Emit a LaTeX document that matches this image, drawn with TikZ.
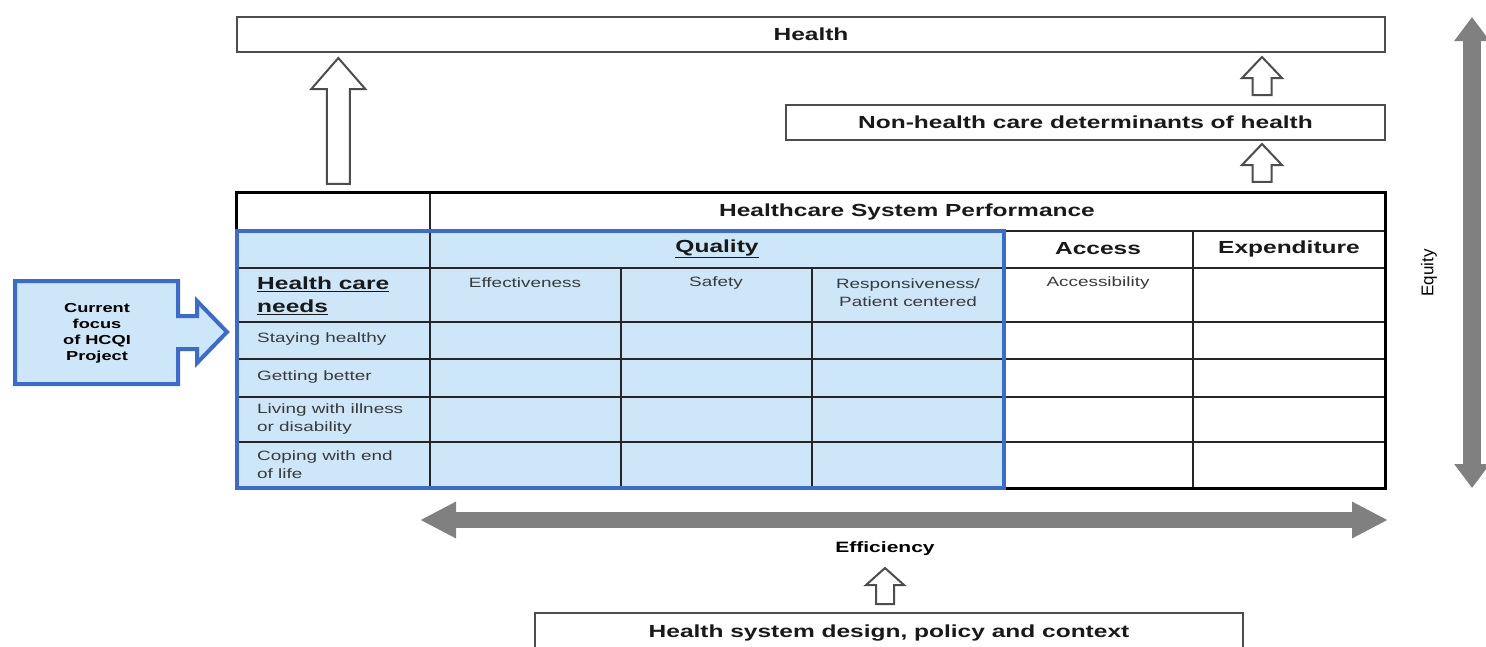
\documentclass[tikz,border=0pt]{standalone}
\usepackage{fontspec}
\setmainfont{Liberation Sans}[FakeStretch=1.4]
\newfontfamily\plainfont{Liberation Sans}
\usetikzlibrary{positioning,calc,arrows.meta}

\definecolor{qblue}{HTML}{CDE6F8}
\definecolor{qedge}{HTML}{3A6BCF}
\definecolor{bandgray}{HTML}{808080}
\definecolor{boxline}{HTML}{4D4D4D}
\definecolor{celltext}{HTML}{3A3A3A}

\tikzset{
  hdr/.style={font=\fontsize{17.5}{23}\selectfont\bfseries, text=black!90, inner sep=0pt},
  topbox/.style={hdr, draw=boxline, line width=2pt, fill=white},
  cell/.style={font=\fontsize{13.5}{18}\selectfont, text=celltext, align=center, inner sep=0pt},
  rowlab/.style={cell, align=left, anchor=west},
  gridline/.style={draw=black!85, line width=1.5pt},
  hollow/.style={draw=boxline, line width=2pt, fill=white, line join=miter},
  hband/.style={draw=bandgray, line width=16pt,
    {Triangle[length=36pt,width=34pt]}-{Triangle[length=36pt,width=34pt]}},
  vband/.style={draw=bandgray, line width=18pt,
    {Triangle[length=24pt,width=34pt]}-{Triangle[length=24pt,width=34pt]}},
}

% hollow block arrow: foot, tip, shaft half, head half, head length
\newcommand{\blockup}[5]{%
  \draw[hollow] let \p1=(#1), \p2=(#2) in
    (\x1-#3pt,\y1) -- (\x1-#3pt,\y2-#5pt) -- (\x1-#4pt,\y2-#5pt) -- (\x2,\y2)
    -- (\x1+#4pt,\y2-#5pt) -- (\x1+#3pt,\y2-#5pt) -- (\x1+#3pt,\y1) -- cycle;}

\begin{document}
\begin{tikzpicture}[x=1pt,y=-1pt]
\clip (0,0) rectangle (1486,646);
\fill[white] (0,0) rectangle (1486,646);

% boxes above and below
\node[topbox, minimum width=1148pt, minimum height=35pt] (health) at (811,34.5) {Health};
\node[topbox, minimum width=599pt, minimum height=35pt] (nonhc) at (1085.5,122.5) {Non-health care determinants of health};
\node[topbox, minimum width=708pt, minimum height=40pt, anchor=north] (design) at (889,612) {Health system design, policy and context};

% table
\node[minimum width=1148pt, minimum height=295pt, inner sep=0pt] (tbl) at (811,340.5) {};
\fill[qblue] (237,231) rectangle (1004,488);
\foreach \y in {231,268,322,359,397,442}
  \draw[gridline] (237,\y) -- (1385,\y);
\draw[gridline] (430,193) -- (430,488);
\foreach \x in {621,812}
  \draw[gridline] (\x,268) -- (\x,488);
\foreach \x in {1004,1193}
  \draw[gridline] (\x,231) -- (\x,488);
\draw[line width=3pt] (tbl.north west) rectangle (tbl.south east);
\draw[qedge, line width=3.5pt] (237,231) rectangle (1004,488);

\node[hdr] (perf) at (907,212) {Healthcare System Performance};
\node[hdr] (qual) at (717,249) {\underline{Quality}};
\node[hdr] (acc) at (1098,249) {Access};
\node[hdr] (expd) at (1289,249) {Expenditure};
\node[cell] (eff) at (525,283) {Effectiveness};
\node[cell] (saf) at (716,283) {Safety};
\node[cell] (resp) at (908,293) {Responsiveness/\\Patient centered};
\node[cell] (accs) at (1098,283) {Accessibility};
\node[hdr, align=left, anchor=west] (needs) at (257,296) {\underline{Health care}\\\underline{needs}};
\node[rowlab] (stay) at (257,339) {Staying healthy};
\node[rowlab] (better) at (257,377) {Getting better};
\node[rowlab] (living) at (257,419) {Living with illness\\or disability};
\node[rowlab] (coping) at (257,465) {Coping with end\\of life};

% focus callout
\draw[qedge, line width=4pt, fill=qblue, line join=miter]
  (15,281) -- (178,281) -- (178,316) -- (197,316) -- (197,301) -- (227,332)
  -- (197,363) -- (197,349) -- (178,349) -- (178,384) -- (15,384) -- cycle;
\node[font=\fontsize{13}{16}\selectfont\bfseries, align=center, inner sep=0pt] (focus) at (97,333) {Current\\focus\\of HCQI\\Project};

% efficiency and equity
\coordinate (effl) at (420,520);
\coordinate (effr) at (1388,520);
\draw[hband] (effl) -- (effr);
\node[font=\fontsize{15}{18}\selectfont\bfseries, inner sep=0pt] (effic) at (885,549) {Efficiency};
\coordinate (eqtop) at (1472,17);
\coordinate (eqbot) at (1472,488);
\draw[vband] (eqtop) -- (eqbot);
\node[font=\plainfont\fontsize{17}{20}\selectfont, rotate=90, inner sep=0pt] (equity) at (1429,273) {Equity};

% hollow arrows
\coordinate (bigfoot) at ($(tbl.north west)+(101.5,-9)$);
\coordinate (bigtip) at ($(health.south -| bigfoot)+(0,5)$);
\blockup{bigfoot}{bigtip}{11.5}{27}{31}
\coordinate (s1foot) at ($(nonhc.north west)+(477,-9)$);
\coordinate (s1tip) at ($(health.south -| s1foot)+(0,4)$);
\blockup{s1foot}{s1tip}{9.5}{20}{21}
\coordinate (s2foot) at ($(tbl.north -| s1foot)+(0,-11)$);
\coordinate (s2tip) at ($(nonhc.south -| s1foot)+(0,3)$);
\blockup{s2foot}{s2tip}{9.5}{20}{21}
\coordinate (dfoot) at ($(design.north)+(-4,-8)$);
\coordinate (dtip) at ($(dfoot)+(0,-36)$);
\blockup{dfoot}{dtip}{9}{19}{17}
\end{tikzpicture}
\end{document}
